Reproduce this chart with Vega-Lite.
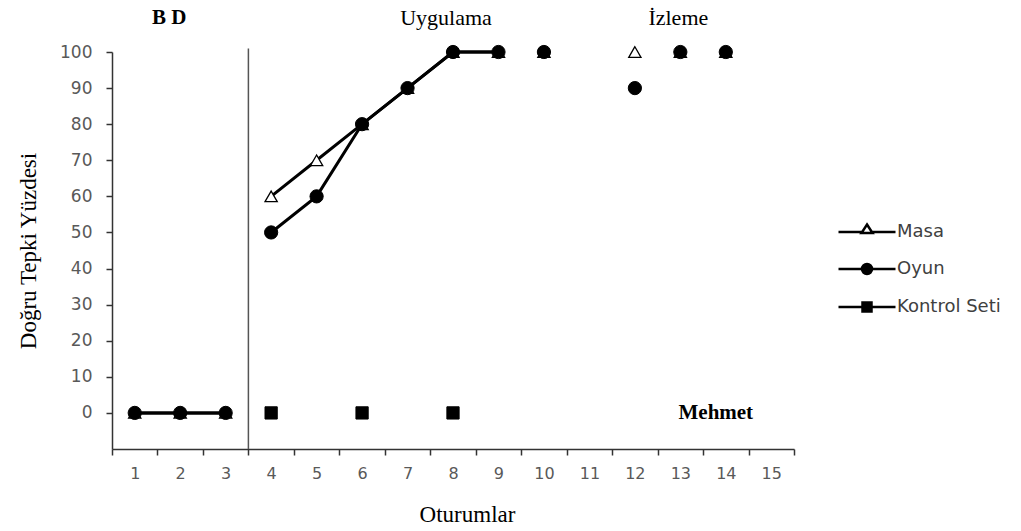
{
  "$schema": "https://vega.github.io/schema/vega-lite/v6.json",
  "width": 682,
  "height": 397,
  "autosize": "none",
  "padding": {"left": 112, "top": 52, "right": 227, "bottom": 82},
  "background": "white",
  "config": {"view": {"stroke": null}, "font": "DejaVu Sans"},
  "encoding": {
    "x": {"field": "session", "type": "ordinal",
      "scale": {"domain": [1,2,3,4,5,6,7,8,9,10,11,12,13,14,15], "paddingInner": 0, "paddingOuter": 0},
      "axis": {"title": "Oturumlar", "titleFont": "Liberation Serif", "titleFontSize": 23, "titleFontWeight": "normal", "titleColor": "black", "titlePadding": 22, "titleX": 355,
        "labelAngle": 0, "labelFont": "DejaVu Sans", "labelFontSize": 16, "labelColor": "#595959", "labelPadding": 10,
        "tickBand": "extent", "tickSize": 6, "tickColor": "#333333", "domainColor": "#333333", "domainWidth": 1.5, "tickWidth": 1.5, "grid": false}},
    "y": {"field": "value", "type": "quantitative",
      "scale": {"domain": [-10, 100], "nice": false, "zero": false},
      "axis": {"values": [0,10,20,30,40,50,60,70,80,90,100], "labelOverlap": false, "title": "Doğru Tepki Yüzdesi", "titleFont": "Liberation Serif", "titleFontSize": 23, "titleFontWeight": "normal", "titleColor": "black", "titlePadding": 19,
        "labelFont": "DejaVu Sans", "labelFontSize": 17, "labelColor": "#595959", "labelPadding": 14,
        "tickSize": 6, "tickColor": "#333333", "tickWidth": 1.5, "domainColor": "#333333", "domainWidth": 1.5, "grid": false}}
  },
  "layer": [
    {
      "data": {"values": [
        {"series": "Masa", "session": 1, "value": 0, "seg": "BL"},
        {"series": "Masa", "session": 2, "value": 0, "seg": "BL"},
        {"series": "Masa", "session": 3, "value": 0, "seg": "BL"},
        {"series": "Masa", "session": 4, "value": 60, "seg": "U"},
        {"series": "Masa", "session": 5, "value": 70, "seg": "U"},
        {"series": "Masa", "session": 6, "value": 80, "seg": "U"},
        {"series": "Masa", "session": 7, "value": 90, "seg": "U"},
        {"series": "Masa", "session": 8, "value": 100, "seg": "U"},
        {"series": "Masa", "session": 9, "value": 100, "seg": "U"},
        {"series": "Masa", "session": 10, "value": 100, "seg": null},
        {"series": "Masa", "session": 12, "value": 100, "seg": null},
        {"series": "Masa", "session": 13, "value": 100, "seg": null},
        {"series": "Masa", "session": 14, "value": 100, "seg": null},
        {"series": "Oyun", "session": 1, "value": 0, "seg": "BL"},
        {"series": "Oyun", "session": 2, "value": 0, "seg": "BL"},
        {"series": "Oyun", "session": 3, "value": 0, "seg": "BL"},
        {"series": "Oyun", "session": 4, "value": 50, "seg": "U"},
        {"series": "Oyun", "session": 5, "value": 60, "seg": "U"},
        {"series": "Oyun", "session": 6, "value": 80, "seg": "U"},
        {"series": "Oyun", "session": 7, "value": 90, "seg": "U"},
        {"series": "Oyun", "session": 8, "value": 100, "seg": "U"},
        {"series": "Oyun", "session": 9, "value": 100, "seg": "U"},
        {"series": "Oyun", "session": 10, "value": 100, "seg": null},
        {"series": "Oyun", "session": 12, "value": 90, "seg": null},
        {"series": "Oyun", "session": 13, "value": 100, "seg": null},
        {"series": "Oyun", "session": 14, "value": 100, "seg": null},
        {"series": "Kontrol Seti", "session": 4, "value": 0, "seg": null},
        {"series": "Kontrol Seti", "session": 6, "value": 0, "seg": null},
        {"series": "Kontrol Seti", "session": 8, "value": 0, "seg": null}
      ]},
      "layer": [
        {
          "transform": [{"filter": "datum.seg != null"}],
          "mark": {"type": "line", "color": "black", "strokeWidth": 3},
          "encoding": {"detail": [{"field": "series"}, {"field": "seg"}]}
        },
        {
          "transform": [{"filter": "datum.series === 'Masa'"}],
          "mark": {"type": "point", "shape": "triangle-up", "filled": true, "fill": "white", "stroke": "black", "strokeWidth": 1.3, "size": 150, "opacity": 1}
        },
        {
          "transform": [{"filter": "datum.series === 'Oyun'"}],
          "mark": {"type": "point", "shape": "circle", "filled": true, "fill": "black", "stroke": "black", "strokeWidth": 1, "size": 175, "opacity": 1}
        },
        {
          "transform": [{"filter": "datum.series === 'Kontrol Seti'"}],
          "mark": {"type": "point", "shape": "square", "filled": true, "fill": "black", "stroke": "black", "strokeWidth": 1, "size": 150, "opacity": 1}
        },
        {
          "transform": [{"filter": "false"}],
          "mark": {"type": "point", "filled": true, "strokeWidth": 2.5, "opacity": 1},
          "encoding": {
            "shape": {"field": "series", "type": "nominal",
              "scale": {"domain": ["Masa", "Oyun", "Kontrol Seti"], "range": ["M-5.7,0H-1.1M1.1,0H5.7M0,-1.5L1.1,0.2L-1.1,0.2Z", "M-5.7,0H5.7M-1,0A1,1,0,1,0,1,0A1,1,0,1,0,-1,0Z", "M-5.7,0H5.7M-0.9,-0.9H0.9V0.9H-0.9Z"]},
              "legend": {"title": null, "orient": "none", "legendX": 746, "legendY": 171, "labelFont": "DejaVu Sans", "labelFontSize": 18, "labelColor": "#404040",
                "labelOffset": 21, "rowPadding": 18, "symbolSize": 100, "symbolStrokeWidth": 2.5, "symbolOpacity": 1, "padding": 0}},
            "fill": {"field": "series", "type": "nominal",
              "scale": {"domain": ["Masa", "Oyun", "Kontrol Seti"], "range": ["white", "black", "black"]},
              "legend": {"title": null, "orient": "none", "legendX": 746, "legendY": 171, "labelFont": "DejaVu Sans", "labelFontSize": 18, "labelColor": "#404040",
                "labelOffset": 21, "rowPadding": 18, "symbolSize": 100, "symbolStrokeWidth": 2.5, "symbolOpacity": 1, "padding": 0}},
            "stroke": {"field": "series", "type": "nominal",
              "scale": {"domain": ["Masa", "Oyun", "Kontrol Seti"], "range": ["black", "black", "black"]},
              "legend": {"title": null, "orient": "none", "legendX": 746, "legendY": 171, "labelFont": "DejaVu Sans", "labelFontSize": 18, "labelColor": "#404040",
                "labelOffset": 21, "rowPadding": 18, "symbolSize": 100, "symbolStrokeWidth": 2.5, "symbolOpacity": 1, "padding": 0}}
          }
        }
      ]
    },
    {
      "data": {"values": [{"session": 3, "value": -10, "top": 101}]},
      "mark": {"type": "rule", "color": "#555555", "strokeWidth": 1.5},
      "encoding": {
        "x": {"field": "session", "type": "ordinal", "bandPosition": 1},
        "y2": {"field": "top"}
      }
    },
    {
      "data": {"values": [{"session": 2, "value": 109.5, "label": "B D"}]},
      "mark": {"type": "text", "font": "Liberation Serif", "fontSize": 21, "fontWeight": "bold", "color": "black", "dx": -11},
      "encoding": {"text": {"field": "label"}}
    },
    {
      "data": {"values": [{"session": 8, "value": 109.5, "label": "Uygulama"}]},
      "mark": {"type": "text", "font": "Liberation Serif", "fontSize": 22, "color": "black", "dx": -7},
      "encoding": {"text": {"field": "label"}}
    },
    {
      "data": {"values": [{"session": 13, "value": 109.5, "label": "İzleme"}]},
      "mark": {"type": "text", "font": "Liberation Serif", "fontSize": 22, "color": "black", "dx": -2},
      "encoding": {"text": {"field": "label"}}
    },
    {
      "data": {"values": [{"session": 14, "value": 0, "label": "Mehmet"}]},
      "mark": {"type": "text", "font": "Liberation Serif", "fontSize": 21, "fontWeight": "bold", "color": "black", "dx": -10},
      "encoding": {"text": {"field": "label"}}
    }
  ]
}
